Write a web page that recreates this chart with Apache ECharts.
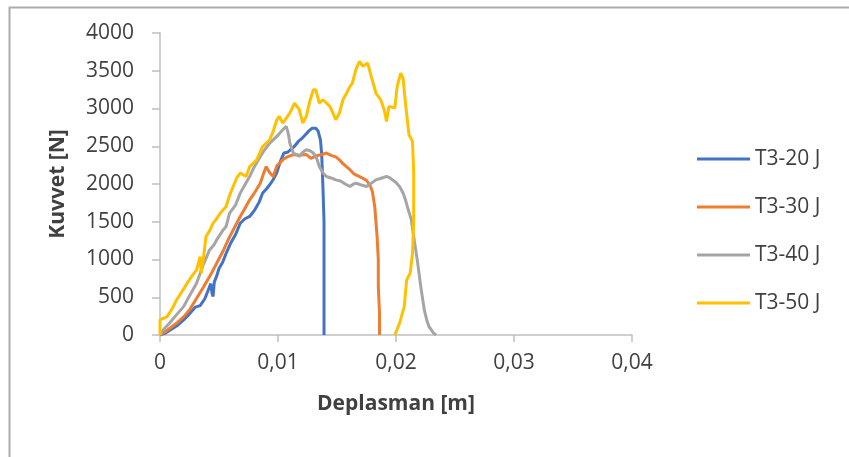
<!DOCTYPE html>
<html>
<head>
<meta charset="utf-8">
<script src="https://cdn.jsdelivr.net/npm/echarts@6/dist/echarts.min.js"></script>
<style>html,body{margin:0;padding:0;background:#fff}#c{width:849px;height:457px}</style>
</head>
<body>
<div id="c"></div>
<script>
const seriesNames = ['T3-20 J', 'T3-30 J', 'T3-40 J', 'T3-50 J'];
const xTicks = [0, 0.01, 0.02, 0.03, 0.04];
const yTicks = [0, 500, 1000, 1500, 2000, 2500, 3000, 3500, 4000];

const t20 = [
  [0,0],[0.0005,30],[0.001,80],[0.0015,130],[0.002,200],[0.0025,280],[0.003,370],[0.0034,390],
  [0.0038,480],[0.0041,600],[0.0043,680],[0.0044,560],[0.0045,510],[0.0046,700],[0.0048,780],
  [0.005,880],[0.0053,960],[0.0056,1080],[0.006,1220],[0.0064,1330],[0.0068,1480],[0.0072,1540],
  [0.0076,1570],[0.008,1650],[0.0084,1760],[0.0087,1880],[0.009,1930],[0.0093,1990],[0.0096,2060],
  [0.0099,2150],[0.0102,2300],[0.0105,2410],[0.0108,2420],[0.0111,2460],[0.0114,2500],[0.0117,2560],
  [0.012,2600],[0.0123,2650],[0.0126,2700],[0.0129,2740],[0.0132,2740],[0.0134,2700],[0.0136,2580],
  [0.0137,2400],[0.0138,2000],[0.0139,1500],[0.0139,1000],[0.0139,500],[0.0139,0]
];
const t30 = [
  [0,0],[0.0005,50],[0.001,110],[0.0014,155],[0.002,240],[0.0025,330],[0.003,460],[0.0037,640],
  [0.0043,800],[0.0048,950],[0.0054,1130],[0.0059,1300],[0.0064,1450],[0.0068,1570],[0.0072,1680],
  [0.0076,1790],[0.008,1880],[0.0085,2010],[0.0088,2150],[0.009,2230],[0.0093,2150],[0.0096,2100],
  [0.0099,2240],[0.0104,2320],[0.0108,2360],[0.0113,2390],[0.0118,2380],[0.0124,2390],[0.0128,2340],
  [0.0132,2370],[0.0137,2390],[0.0141,2410],[0.0145,2380],[0.0149,2360],[0.0152,2320],[0.0155,2270],
  [0.0158,2230],[0.0161,2190],[0.0164,2140],[0.0166,2120],[0.017,2090],[0.0175,2050],[0.0178,1980],
  [0.018,1900],[0.0182,1700],[0.0183,1500],[0.0184,1300],[0.0185,1000],[0.0185,640],[0.0186,300],[0.0186,0]
];
const t40 = [
  [0,0],[0.0004,90],[0.0008,155],[0.0013,250],[0.002,376],[0.0025,520],[0.0031,685],[0.0036,900],
  [0.0042,1127],[0.0046,1200],[0.0048,1260],[0.0053,1380],[0.0056,1437],[0.0059,1613],[0.0064,1720],
  [0.0068,1879],[0.0072,1990],[0.0076,2100],[0.008,2230],[0.0085,2365],[0.0089,2460],[0.0093,2542],
  [0.0099,2630],[0.0104,2718],[0.0107,2763],[0.0109,2650],[0.011,2542],[0.0113,2409],[0.0116,2390],
  [0.0118,2365],[0.0121,2420],[0.0124,2453],[0.0127,2440],[0.013,2409],[0.0133,2330],[0.0135,2232],
  [0.0138,2150],[0.0141,2100],[0.0145,2080],[0.0149,2055],[0.0153,2040],[0.0157,2000],[0.0161,1967],
  [0.0164,2000],[0.0166,2011],[0.017,1990],[0.0175,1967],[0.0179,2010],[0.0183,2055],[0.0188,2080],
  [0.0192,2100],[0.0195,2080],[0.0197,2055],[0.02,2020],[0.0203,1967],[0.0206,1880],[0.0208,1790],
  [0.021,1680],[0.0213,1525],[0.0215,1304],[0.0218,995],[0.0221,641],[0.0224,332],[0.0226,200],
  [0.0228,110],[0.0232,22],[0.0234,0]
];
const t50 = [
  [0,0],[0,199],[0.0006,243],[0.001,340],[0.0014,464],[0.0018,560],[0.0023,685],[0.0027,780],
  [0.0031,862],[0.0034,1039],[0.0035,818],[0.0037,1050],[0.0039,1304],[0.0042,1380],[0.0045,1481],
  [0.0048,1540],[0.0051,1613],[0.0056,1702],[0.0059,1850],[0.0062,1967],[0.0065,2080],[0.0068,2144],
  [0.0073,2100],[0.0076,2232],[0.0082,2320],[0.0087,2497],[0.0093,2586],[0.0096,2700],[0.0099,2851],
  [0.0101,2895],[0.0104,2807],[0.011,2939],[0.0114,3072],[0.0118,2984],[0.0121,2807],[0.0124,2895],
  [0.0127,3100],[0.013,3249],[0.0132,3249],[0.0135,3072],[0.0138,3116],[0.0144,3028],[0.0149,2851],
  [0.0152,2939],[0.0155,3116],[0.0158,3200],[0.0161,3293],[0.0163,3337],[0.0166,3514],[0.0169,3624],
  [0.0172,3558],[0.0176,3602],[0.0179,3426],[0.0183,3205],[0.0187,3116],[0.019,2984],[0.0192,2829],
  [0.0194,3028],[0.0199,3006],[0.0201,3293],[0.0204,3470],[0.0206,3403],[0.0208,3072],[0.0211,2652],
  [0.0214,2564],[0.0215,2144],[0.0215,1525],[0.0214,1083],[0.0212,818],[0.0209,729],[0.0207,376],
  [0.0203,155],[0.0199,0]
];

const colors = ['#4472C4', '#ED7D31', '#A5A5A5', '#FFC000'];
const allData = [t20, t30, t40, t50];
const FONT = '"Open Sans", "Liberation Sans", sans-serif';
const FS = 21;

const chart = echarts.init(document.getElementById('c'), null, {renderer: 'canvas'});
chart.setOption({
  animation: false,
  backgroundColor: '#ffffff',
  graphic: [{
    type: 'rect', left: 7, top: 5, z: -1,
    shape: {width: 900, height: 500},
    style: {fill: 'none', stroke: '#acacac', lineWidth: 2}
  }],
  grid: {left: 160, top: 33, width: 472, height: 302, containLabel: false},
  legend: {
    orient: 'vertical', left: 697, top: 148, padding: 0,
    itemWidth: 53, itemHeight: 3, itemGap: 26, icon: 'rect',
    textStyle: {fontFamily: FONT, fontSize: FS, color: '#404040', lineHeight: 22},
    data: seriesNames
  },
  xAxis: {
    type: 'value', min: xTicks[0], max: xTicks[xTicks.length - 1], interval: 0.01,
    name: 'Deplasman [m]', nameLocation: 'middle', nameGap: 59,
    nameTextStyle: {fontFamily: FONT, fontSize: FS, fontWeight: 'bold', color: '#404040'},
    axisLine: {show: true, lineStyle: {color: '#bfbfbf', width: 1.5}},
    axisTick: {show: true, length: 7, lineStyle: {color: '#bfbfbf', width: 1.5}},
    splitLine: {show: false},
    axisLabel: {fontFamily: FONT, fontSize: FS, color: '#404040', margin: 18,
      formatter: v => String(v).replace('.', ',')}
  },
  yAxis: {
    type: 'value', min: yTicks[0], max: yTicks[yTicks.length - 1], interval: 500,
    name: 'Kuvvet [N]', nameLocation: 'middle', nameGap: 91,
    nameTextStyle: {fontFamily: FONT, fontSize: FS, fontWeight: 'bold', color: '#404040'},
    axisLine: {show: true, lineStyle: {color: '#bfbfbf', width: 1.5}},
    axisTick: {show: true, length: 8, lineStyle: {color: '#bfbfbf', width: 1.5}},
    splitLine: {show: false},
    axisLabel: {fontFamily: FONT, fontSize: FS, color: '#404040', margin: 26,
      formatter: v => String(v)}
  },
  series: seriesNames.map((n, i) => ({
    name: n, type: 'line', data: allData[i], showSymbol: false, symbol: 'none',
    color: colors[i], lineStyle: {width: 3, color: colors[i]}, z: 2 + i
  }))
});
</script>
</body>
</html>
